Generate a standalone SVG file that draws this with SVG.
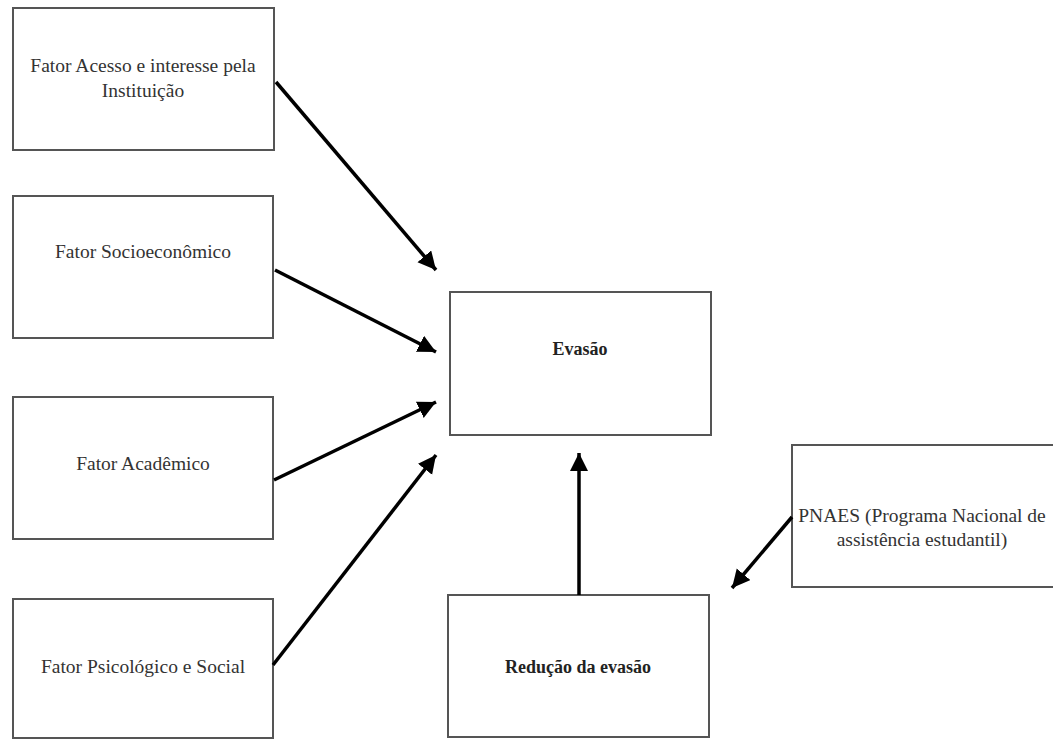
<svg xmlns="http://www.w3.org/2000/svg" width="1053" height="740" viewBox="0 0 1053 740">
<style>
.box{fill:#fff;stroke:#555;stroke-width:2}
.t{font-family:"Liberation Serif","Times New Roman",serif;font-size:19.5px;fill:#333;text-anchor:middle}
.b{font-weight:bold;fill:#222;font-size:18px}
.c{stroke:#000;stroke-width:3.5;fill:none;marker-end:url(#ah)}
</style>
<defs>
<marker id="ah" markerUnits="userSpaceOnUse" markerWidth="20" markerHeight="20" refX="18" refY="9" orient="auto">
<path d="M0,0 L18,9 L0,18 Z" fill="#000"/>
</marker>
</defs>
<rect width="1053" height="740" fill="#fff"/>
<g id="n1"><rect class="box" x="13" y="8" width="261" height="142"/>
<text class="t" x="143" y="72">Fator Acesso e interesse pela</text>
<text class="t" x="143" y="97">Instituição</text></g>
<g id="n2"><rect class="box" x="13" y="196" width="260" height="142"/>
<text class="t" x="143" y="258">Fator Socioeconômico</text></g>
<g id="n3"><rect class="box" x="13" y="397" width="260" height="142"/>
<text class="t" x="143" y="470">Fator Acadêmico</text></g>
<g id="n4"><rect class="box" x="13" y="599" width="260" height="139"/>
<text class="t" x="143" y="673">Fator Psicológico e Social</text></g>
<g id="n5"><rect class="box" x="450" y="292" width="261" height="143"/>
<text class="t b" x="580" y="355">Evasão</text></g>
<g id="n6"><rect class="box" x="448" y="595" width="261" height="142"/>
<text class="t b" x="578" y="673">Redução da evasão</text></g>
<g id="n7"><rect class="box" x="792" y="445" width="262" height="142"/>
<text class="t" x="922" y="522">PNAES (Programa Nacional de</text>
<text class="t" x="922" y="546">assistência estudantil)</text></g>
<g id="connectors">
<line class="c" x1="276" y1="82" x2="436" y2="270"/>
<line class="c" x1="275" y1="270" x2="436" y2="352"/>
<line class="c" x1="274" y1="480" x2="436" y2="402"/>
<line class="c" x1="273" y1="665" x2="436" y2="455"/>
<line class="c" x1="579" y1="595" x2="579" y2="453"/>
<line class="c" x1="792" y1="517" x2="732" y2="588"/>
</g>
</svg>
